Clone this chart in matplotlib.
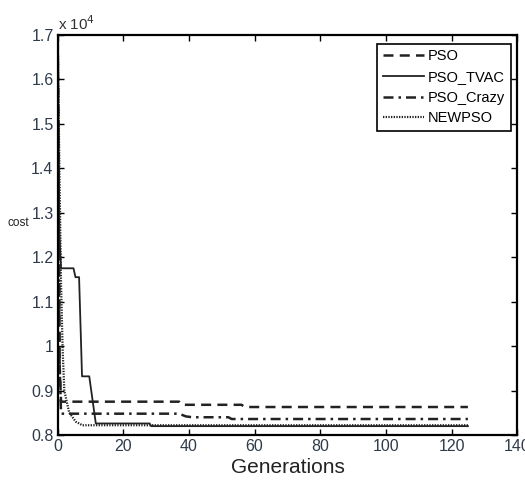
import matplotlib
matplotlib.use("Agg")
import matplotlib.pyplot as plt
from matplotlib.ticker import FuncFormatter, MultipleLocator

plt.rcParams["font.family"] = ["Liberation Sans", "DejaVu Sans"]

# convergence curves (generation, cost)
pso_gen = [0, 0.6, 1, 37, 38, 56, 57, 125]
pso_cost = [16900, 9500, 8750, 8750, 8680, 8680, 8630, 8630]

tvac_gen = [0, 0.5, 1, 4.8, 5.4, 6.5, 7.4, 9.6, 11.6, 28, 28.5, 125]
tvac_cost = [17000, 12500, 11750, 11750, 11550, 11550, 9320, 9320, 8260, 8260, 8200, 8200]

crazy_gen = [0, 0.5, 1, 37, 39, 41, 52, 53, 125]
crazy_cost = [16900, 9800, 8480, 8480, 8420, 8400, 8400, 8360, 8360]

new_gen = [0, 0.5, 1, 1.5, 2, 3.5, 5.5, 7.5, 125]
new_cost = [17000, 14000, 11400, 9900, 9000, 8500, 8300, 8220, 8220]

fig = plt.figure(figsize=(5.25, 4.91), dpi=100)
ax = fig.add_axes([0.110, 0.114, 0.875, 0.815])

ax.plot(pso_gen, pso_cost, color="#222222", lw=1.8, linestyle=(0, (4, 2.5)), label="PSO")
ax.plot(tvac_gen, tvac_cost, color="#222222", lw=1.3, linestyle="-", label="PSO_TVAC")
ax.plot(crazy_gen, crazy_cost, color="#222222", lw=1.8, linestyle=(0, (4, 2, 1, 2)), label="PSO_Crazy")
ax.plot(new_gen, new_cost, color="#222222", lw=1.6, linestyle=(0, (0.6, 0.6)), label="NEWPSO")

ax.set_xlim(0, 140)
ax.set_ylim(8000, 17000)
ax.xaxis.set_major_locator(MultipleLocator(20))
ax.yaxis.set_major_locator(MultipleLocator(1000))
ax.yaxis.set_major_formatter(FuncFormatter(lambda v, p: f"{v / 1e4:g}"))

ax.tick_params(direction="in", top=True, right=True, length=4, width=1,
               labelsize=11.5, labelcolor="#2f3a4a", pad=3)
for s in ax.spines.values():
    s.set_linewidth(1.6)

ax.text(0.0, 1.005, r"x 10$^4$", transform=ax.transAxes, fontsize=11,
        color="#333333", ha="left", va="bottom")

ax.set_xlabel("Generations", fontsize=15, color="#222222", labelpad=3)
ax.text(-0.11, 0.53, "cost", transform=ax.transAxes, fontsize=8.5,
        color="#222222", ha="left", va="center")

leg = ax.legend(loc="upper right", bbox_to_anchor=(0.987, 0.978), fontsize=10.5,
                frameon=True, fancybox=False, edgecolor="black", framealpha=1,
                handlelength=2.8, handletextpad=0.3, borderpad=0.4,
                labelspacing=0.45, borderaxespad=0)
leg.get_frame().set_linewidth(1.2)

fig.savefig("out.png", dpi=100)
